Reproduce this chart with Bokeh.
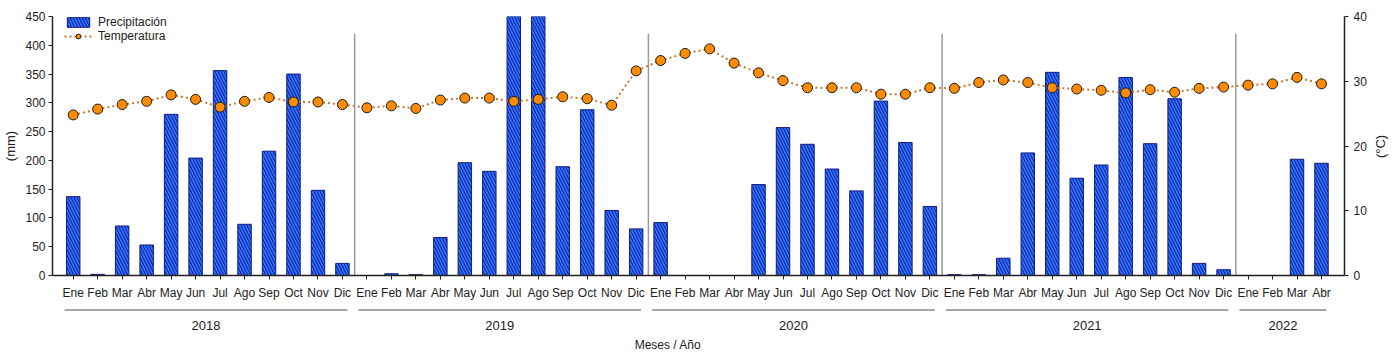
import math
from bokeh.plotting import figure
from bokeh.models import Range1d, LinearAxis, FixedTicker, ColumnDataSource, Legend, LegendItem
from bokeh.layouts import column, row
from bokeh.embed import file_html
from bokeh.resources import INLINE
from bokeh.core.properties import value

# ---------------- data ----------------
years = ["2018", "2019", "2020", "2021", "2022"]
months_per_year = [12, 12, 12, 12, 4]
month_names = ["Ene", "Feb", "Mar", "Abr", "May", "Jun", "Jul", "Ago", "Sep", "Oct", "Nov", "Dic"]

precip_2018 = [137, 2, 86, 53, 280, 204, 356, 89, 216, 350, 148, 21]
precip_2019 = [0, 3, 1.5, 66, 196, 181, 540, 500, 189, 288, 113, 81]
precip_2020 = [92, 0, 0, 0, 158, 257, 228, 185, 147, 303, 231, 120]
precip_2021 = [1.5, 1.5, 30, 213, 353, 169, 192, 344, 229, 307, 21, 10]
precip_2022 = [0, 0, 202, 195]

temp_2018 = [24.8, 25.7, 26.4, 26.9, 27.9, 27.2, 26.0, 26.9, 27.5, 26.8, 26.8, 26.4]
temp_2019 = [25.9, 26.2, 25.8, 27.1, 27.4, 27.4, 26.9, 27.2, 27.6, 27.3, 26.3, 31.6]
temp_2020 = [33.2, 34.3, 35.0, 32.8, 31.3, 30.1, 29.0, 29.0, 29.0, 28.0, 28.0, 29.0]
temp_2021 = [28.9, 29.8, 30.2, 29.8, 29.0, 28.8, 28.6, 28.2, 28.7, 28.3, 28.9, 29.1]
temp_2022 = [29.4, 29.6, 30.6, 29.6]

precip = precip_2018 + precip_2019 + precip_2020 + precip_2021 + precip_2022
temp = temp_2018 + temp_2019 + temp_2020 + temp_2021 + temp_2022
labels = []
for n in months_per_year:
    labels += month_names[:n]
xs = list(range(len(labels)))

FONT = "Liberation Sans"
TXT = "#222222"

# ---------------- main figure ----------------
p = figure(frame_width=1292, frame_height=259, min_border_left=52, min_border_right=28,
           min_border_top=16, min_border_bottom=25,
           x_range=Range1d(-0.846, 51.94), y_range=Range1d(0, 450),
           output_backend="svg", toolbar_location=None)
p.outline_line_color = None
p.xgrid.visible = False
p.ygrid.visible = False
p.background_fill_color = "white"
p.border_fill_color = "white"

src = ColumnDataSource(dict(x=xs, p=precip, t=temp))

bars = p.vbar(x="x", top="p", width=0.55, source=src, fill_color="#2f6dff",
              line_color="#101f80", line_width=1,
              hatch_pattern="\\", hatch_color="#0c1f8a", hatch_scale=6, hatch_weight=1)

# year separators
bounds = []
acc = 0
for n in months_per_year[:-1]:
    acc += n
    bounds.append(acc - 0.5)
p.segment(x0=bounds, y0=[0] * len(bounds), x1=bounds, y1=[420] * len(bounds),
          line_color="#9a9a9a", line_width=1.5)

p.extra_y_ranges = {"temp": Range1d(0, 40)}
tline = p.line(x="x", y="t", source=src, y_range_name="temp", line_color="#c8782f",
               line_width=2, line_dash="2 3")
tpts = p.scatter(x="x", y="t", source=src, y_range_name="temp", size=10,
                 fill_color="#ff8c00", line_color="#1a1a1a", line_width=1)

# axes
p.xaxis.ticker = FixedTicker(ticks=xs)
p.xaxis.major_label_overrides = {i: l for i, l in enumerate(labels)}
p.xaxis.minor_tick_line_color = None
p.xaxis.major_tick_in = 0
p.xaxis.major_tick_out = 4
p.xaxis.major_label_standoff = 6
for ax in [p.xaxis[0], p.yaxis[0]]:
    ax.axis_line_color = "#222222"
    ax.axis_line_width = 1.5
    ax.major_tick_line_color = "#222222"
    ax.major_label_text_font = FONT
    ax.major_label_text_font_size = "12px"
    ax.major_label_text_color = TXT

p.yaxis.ticker = FixedTicker(ticks=list(range(0, 451, 50)))
p.yaxis.minor_tick_line_color = None
p.yaxis.major_tick_in = 0
p.yaxis.major_tick_out = 4
p.yaxis.major_label_standoff = 3
p.yaxis.axis_label = "(mm)"
p.yaxis.axis_label_text_font = FONT
p.yaxis.axis_label_text_font_style = "normal"
p.yaxis.axis_label_text_font_size = "13px"
p.yaxis.axis_label_text_color = TXT
p.yaxis.axis_label_standoff = 4

ry = LinearAxis(y_range_name="temp", ticker=FixedTicker(ticks=[0, 10, 20, 30, 40]))
ry.minor_tick_line_color = None
ry.major_tick_in = 0
ry.major_tick_out = 4
ry.major_label_standoff = 5
ry.axis_line_color = "#222222"
ry.axis_line_width = 1.5
ry.major_tick_line_color = "#222222"
ry.major_label_text_font = FONT
ry.major_label_text_font_size = "12px"
ry.major_label_text_color = TXT
p.add_layout(ry, "right")

legend = Legend(items=[LegendItem(label="Precipitación", renderers=[bars]),
                       LegendItem(label="Temperatura", renderers=[tline, tpts])],
                location=(12, 232))
legend.background_fill_alpha = 0
legend.border_line_color = None
legend.label_text_font = FONT
legend.label_text_font_size = "12px"
legend.label_text_color = TXT
legend.glyph_width = 28
legend.glyph_height = 12
legend.label_height = 12
legend.spacing = 0
legend.padding = 2
legend.margin = 0
legend.label_standoff = 6
p.add_layout(legend, "center")

# ---------------- year band figure ----------------
p2 = figure(frame_width=1292, frame_height=52, min_border_left=52, min_border_right=28,
            min_border_top=0, min_border_bottom=0,
            x_range=p.x_range, y_range=Range1d(52, 0),
            output_backend="svg", toolbar_location=None)
p2.outline_line_color = None
p2.xgrid.visible = False
p2.ygrid.visible = False
p2.xaxis.visible = False
p2.yaxis.visible = False

starts, ends, mids = [], [], []
acc = 0
for n in months_per_year:
    s = acc - 0.35
    e = acc + n - 1 + 0.2
    starts.append(s)
    ends.append(e)
    mids.append((s + e) / 2)
    acc += n
p2.segment(x0=starts, y0=[7.5] * len(starts), x1=ends, y1=[7.5] * len(starts),
           line_color="#8a8a8a", line_width=1.5)
p2.text(x=mids, y=[23] * len(mids), text=years, text_align="center", text_baseline="middle",
        text_font=value(FONT), text_font_size="13px", text_color=TXT)
p2.text(x=[24.3], y=[42], text=["Meses / Año"], text_align="center", text_baseline="middle",
        text_font=value(FONT), text_font_size="12px", text_color=TXT)

# ---------------- right title strip ----------------
p3 = figure(frame_width=22, frame_height=352, min_border=0,
            x_range=Range1d(0, 22), y_range=Range1d(352, 0),
            output_backend="svg", toolbar_location=None)
p3.outline_line_color = None
p3.xgrid.visible = False
p3.ygrid.visible = False
p3.xaxis.visible = False
p3.yaxis.visible = False
p3.text(x=[8], y=[146], text=["(°C)"], angle=math.pi / 2, text_align="center",
        text_baseline="middle", text_font=value(FONT), text_font_size="13px", text_color=TXT)

layout = row(column(p, p2, spacing=0), p3, spacing=0)
open("out.html", "w").write(file_html(layout, INLINE))
